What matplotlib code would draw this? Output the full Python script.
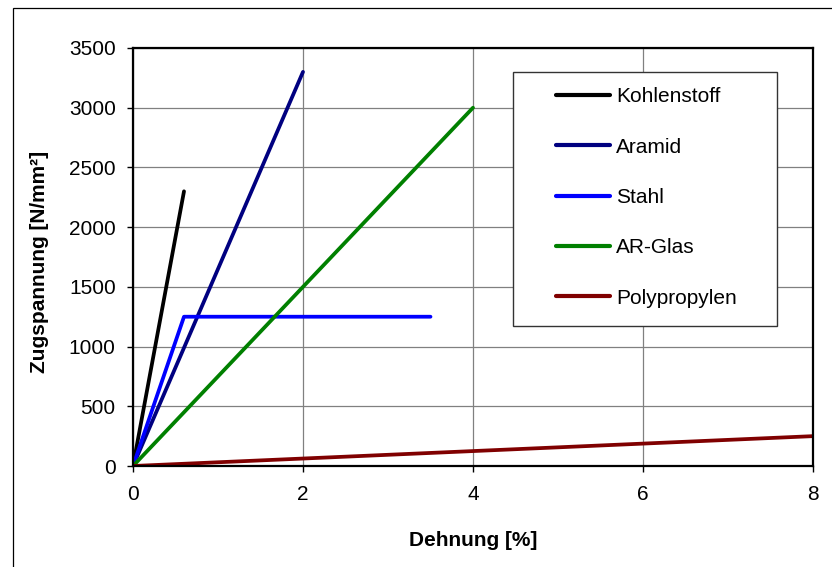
import matplotlib
matplotlib.use("Agg")
import matplotlib.pyplot as plt
from matplotlib.patches import Rectangle

plt.rcParams['font.family'] = ['Liberation Sans', 'DejaVu Sans']

# Werkstoffe (Dehnung in %, Zugspannung in N/mm²)
names = ["Kohlenstoff", "Aramid", "Stahl", "AR-Glas", "Polypropylen"]
colors = ["#000000", "#000080", "#0000ff", "#008000", "#800000"]

kohle_x = [0, 0.6]
kohle_y = [0, 2300]
aramid_x = [0, 2.0]
aramid_y = [0, 3300]
stahl_x = [0, 0.6, 3.5]
stahl_y = [0, 1250, 1250]
glas_x = [0, 4.0]
glas_y = [0, 3000]
pp_x = [0, 8.0]
pp_y = [0, 250]

xs = [kohle_x, aramid_x, stahl_x, glas_x, pp_x]
ys = [kohle_y, aramid_y, stahl_y, glas_y, pp_y]

x_ticks = [0, 2, 4, 6, 8]
y_ticks = [0, 500, 1000, 1500, 2000, 2500, 3000, 3500]

W, H = 832, 567
fig = plt.figure(figsize=(W / 100, H / 100), dpi=100)
ax = fig.add_axes([133 / W, 1 - 466 / H, 680 / W, 418 / H])

for x, y, c, n in zip(xs, ys, colors, names):
    ax.plot(x, y, color=c, lw=2.7, label=n, solid_capstyle='round', zorder=3)

ax.set_xlim(0, 8)
ax.set_ylim(0, 3500)
ax.set_xticks(x_ticks)
ax.set_yticks(y_ticks)
ax.grid(True, color="#808080", lw=0.9)
ax.set_axisbelow(True)

for s in ax.spines.values():
    s.set_linewidth(1.6)
    s.set_color("black")
    s.set_zorder(4)

ax.tick_params(direction='out', length=4.5, width=1, labelsize=15, colors='black')
ax.tick_params(axis='x', pad=9)
ax.tick_params(axis='y', pad=8)

ax.set_xlabel("Dehnung [%]", fontsize=15, fontweight='bold')
ax.set_ylabel("Zugspannung [N/mm²]", fontsize=15, fontweight='bold')
ax.xaxis.set_label_coords(0.5, -(540 - 466) / 418)
ax.xaxis.label.set_va('center')
ax.yaxis.set_label_coords(-(133 - 40) / 680, 0.5 - 5 / 418)
ax.yaxis.label.set_va('center')

# Legende mit eigenem Rahmen wie in Excel
frame = Rectangle((513 / W, 1 - 326 / H), 264 / W, 254 / H,
                  transform=fig.transFigure, facecolor='white',
                  edgecolor='#333333', lw=1.0, zorder=5)
fig.patches.append(frame)
handles, labels = ax.get_legend_handles_labels()
leg = fig.legend(handles, labels, loc='center left',
                 bbox_to_anchor=(556 / W, 1 - 197.5 / H), frameon=False,
                 fontsize=15, handlelength=2.6, handletextpad=0.3,
                 labelspacing=1.5, borderpad=0, borderaxespad=0)
leg.set_zorder(6)
for line in leg.get_lines():
    line.set_linewidth(3)

# Rahmen um die ganze Grafik
fig.patches.append(Rectangle((13 / W, -0.1), 1.2, 1.1 - 8 / H,
                             transform=fig.transFigure, fill=False,
                             edgecolor='black', lw=0.9))

fig.savefig("out.png", dpi=100)
